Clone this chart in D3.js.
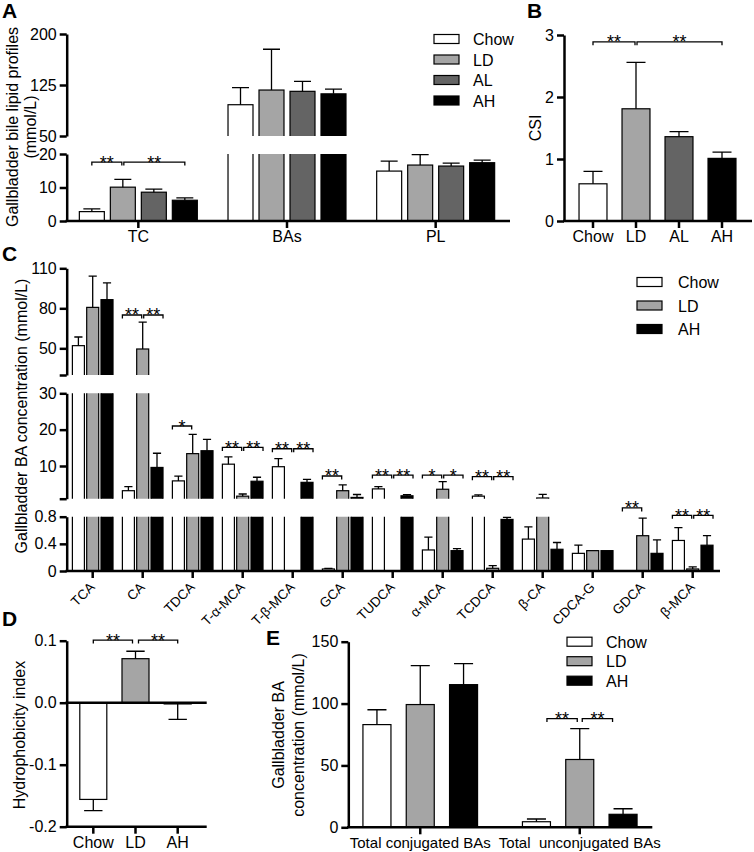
<!DOCTYPE html>
<html>
<head>
<meta charset="utf-8">
<script src="https://cdn.jsdelivr.net/npm/d3@7/dist/d3.min.js"></script>
<style>
  body { margin: 0; background: #fff; }
  text { font-family: "Liberation Sans", Arial, sans-serif; fill: #000; }
</style>
</head>
<body>
<svg id="fig" width="754" height="852"></svg>
<script>
// ---- data ----
// A: bile lipid profiles
const aCats = ['TC', 'BAs', 'PL'];
const aGroups = ['Chow', 'LD', 'AL', 'AH'];
const aMean = [[2.8, 10.1, 8.6, 6.2], [96, 117.6, 115.7, 112], [14.9, 16.7, 16.4, 17.4]];
const aSD = [[0.8, 2.3, 0.9, 0.7], [25, 60, 14.5, 7], [3, 3.1, 0.9, 0.8]];
const aSig = [['TC', 'Chow', 'LD', 17.6, '**'], ['TC', 'LD', 'AH', 17.6, '**']];

// B: CSI
const bGroups = ['Chow', 'LD', 'AL', 'AH'];
const bMean = [0.6, 1.81, 1.36, 1.01];
const bSD = [0.2, 0.75, 0.08, 0.1];
const bSig = [['Chow', 'LD', 2.89, '**'], ['LD', 'AH', 2.89, '**']];

// C: individual bile acids
const cCats = ['TCA', 'CA', 'TDCA', 'T-α-MCA', 'T-β-MCA', 'GCA', 'TUDCA', 'α-MCA', 'TCDCA', 'β-CA', 'CDCA-G', 'GDCA', 'β-MCA'];
const cGroups = ['Chow', 'LD', 'AH'];
const cMean = [[52, 80.7, 86.5], [3.2, 49.5, 9.6], [5.9, 13.4, 14.2], [10.5, 1.7, 5.8], [9.8, 0, 5.5],
  [0.03, 3.2, 1.35], [3.7, 0, 1.8], [0.31, 3.6, 0.3], [1.7, 0.04, 0.76], [0.47, 1.2, 0.32],
  [0.26, 0.3, 0.3], [0, 0.52, 0.26], [0.45, 0.03, 0.38]];
const cSD = [[6.5, 23.5, 12.5], [1.1, 20.2, 3.9], [1.3, 5.3, 3.1], [2, 0.6, 1.1], [2.2, 0, 0.8],
  [0.01, 1.6, 0.8], [0.6, 0, 0.3], [0.19, 2.1, 0.03], [0.35, 0.04, 0.03], [0.18, 1.0, 0.1],
  [0.12, 0, 0], [0, 0.26, 0.2], [0.19, 0.03, 0.14]];
const cSig = [
  ['CA', 'Chow', 'LD', 75, '**'], ['CA', 'LD', 'AH', 75, '**'],
  ['TDCA', 'Chow', 'LD', 21, '*'],
  ['T-α-MCA', 'Chow', 'LD', 15.1, '**'], ['T-α-MCA', 'LD', 'AH', 15.1, '**'],
  ['T-β-MCA', 'Chow', 'LD', 14.75, '**'], ['T-β-MCA', 'LD', 'AH', 14.75, '**'],
  ['GCA', 'Chow', 'LD', 7.25, '**'],
  ['TUDCA', 'Chow', 'LD', 7.5, '**'], ['TUDCA', 'LD', 'AH', 7.5, '**'],
  ['α-MCA', 'Chow', 'LD', 7.5, '*'], ['α-MCA', 'LD', 'AH', 7.5, '*'],
  ['TCDCA', 'Chow', 'LD', 7.05, '**'], ['TCDCA', 'LD', 'AH', 7.05, '**'],
  ['GDCA', 'Chow', 'LD', 0.93, '**'],
  ['β-MCA', 'Chow', 'LD', 0.82, '**'], ['β-MCA', 'LD', 'AH', 0.82, '**']];

// D: hydrophobicity index
const dGroups = ['Chow', 'LD', 'AH'];
const dMean = [-0.156, 0.071, -0.002];
const dSD = [0.018, 0.012, 0.025];
const dSig = [['Chow', 'LD', 0.101, '**'], ['LD', 'AH', 0.101, '**']];

// E: conjugated / unconjugated totals
const eCats = ['Total conjugated BAs', 'Total  unconjugated BAs'];
const eMean = [[83, 99.2, 115.3], [4.5, 54.8, 10.5]];
const eSD = [[12, 31.4, 17], [2.2, 25, 4.5]];
const eSig = [['Total  unconjugated BAs', 'Chow', 'LD', 87.9, '**'], ['Total  unconjugated BAs', 'LD', 'AH', 87.9, '**']];

// ---- drawing ----
const svg = d3.select('#fig');
const fills = {Chow: '#ffffff', LD: '#a5a5a5', AL: '#646464', AH: '#000000'};
const AXW = 2.5;

function seg(lo, hi, y0, y1, ticks, labels) {
  return {lo, hi, ticks, labels: labels || ticks, y: d3.scaleLinear().domain([lo, hi]).range([y0, y1])};
}

function tidy(ax, fs) {
  ax.attr('font-family', null).attr('font-size', null);
  ax.selectAll('.domain, .tick line').attr('stroke-width', AXW);
  ax.selectAll('.tick text').style('font-size', (fs || 16) + 'px');
}

function yAxis(g, x, s, fmt) {
  const ax = g.append('g').attr('transform', `translate(${x},0)`)
    .call(d3.axisLeft(s.y).tickValues(s.ticks).tickSize(7).tickSizeOuter(0).tickPadding(3)
      .tickFormat(d => s.labels.includes(d) ? fmt(d) : ''));
  tidy(ax);
}

function xAxis(g, x, y, x0, x1, fs) {
  const ax = g.append('g').attr('transform', `translate(0,${y})`)
    .call(d3.axisBottom(x).tickSize(7).tickSizeOuter(0).tickPadding(3));
  tidy(ax, fs);
  ax.select('.domain').remove();
  g.append('line').attr('x1', x0).attr('x2', x1).attr('y1', y).attr('y2', y)
    .attr('stroke', '#000').attr('stroke-width', AXW);
  return ax;
}

function segFor(segs, v) {
  let s = segs[0];
  segs.forEach(t => { if (v >= t.lo) s = t; });
  return s;
}

let clipN = 0;
function bars(g, segs, items) {
  segs.forEach(s => {
    const id = 'clip' + (clipN++);
    const top = s.y(s.hi), bot = s.y(s.lo);
    g.append('clipPath').attr('id', id).append('rect')
      .attr('x', 0).attr('width', 754).attr('y', top).attr('height', bot - top + (s.lo === 0 ? 2 : 0));
    g.append('g').attr('clip-path', `url(#${id})`)
      .selectAll('rect').data(items.filter(d => d.v > s.lo)).join('rect')
      .attr('x', d => d.x - d.w / 2).attr('width', d => d.w)
      .attr('y', d => s.y(d.v))
      .attr('height', d => bot - s.y(d.v) + (s.lo === 0 ? 0 : 4))
      .attr('fill', d => fills[d.g]).attr('stroke', '#000').attr('stroke-width', 1.2);
  });
  items.filter(d => d.sd > 0 && d.v > 0).forEach(d => {
    const s = segFor(segs, d.v);
    const y0 = s.y(d.v), y1 = s.y(d.v + d.sd), cw = d.w * 0.68;
    g.append('path').attr('d', `M${d.x},${y0}V${y1}M${d.x - cw / 2},${y1}H${d.x + cw / 2}`)
      .attr('stroke', '#000').attr('stroke-width', 1.3).attr('fill', 'none');
  });
}

function bracket(g, x1, x2, y, label) {
  g.append('path').attr('d', `M${x1},${y + 3.5}V${y}H${x2}V${y + 3.5}`)
    .attr('fill', 'none').attr('stroke', '#000').attr('stroke-width', 1.3);
  g.append('text').attr('x', (x1 + x2) / 2).attr('y', y + 6.5).attr('text-anchor', 'middle')
    .style('font-size', '18px').text(label);
}

function sigEnds(cx, groups, g1, g2, outer, inner) {
  const i1 = groups.indexOf(g1), i2 = groups.indexOf(g2);
  return [cx(g1) + (i1 === 0 ? outer : inner), cx(g2) - (i2 === groups.length - 1 ? outer : inner)];
}

function legend(g, x, y0, dy, groups, tx) {
  groups.forEach((k, i) => {
    const y = y0 + i * dy;
    g.append('rect').attr('x', x).attr('y', y - 4.5).attr('width', 25).attr('height', 9)
      .attr('fill', fills[k]).attr('stroke', '#000').attr('stroke-width', 1.2);
    g.append('text').attr('x', tx).attr('y', y + 6).style('font-size', '16px').text(k);
  });
}

function yTitle(g, lines, xs, cy) {
  lines.forEach((t, i) => g.append('text')
    .attr('transform', `translate(${xs[i]},${cy}) rotate(-90)`)
    .attr('text-anchor', 'middle').attr('dy', '0.35em').style('font-size', '16px').text(t));
}

function letter(t, x, y) {
  svg.append('text').attr('x', x).attr('y', y).style('font-size', '21px').style('font-weight', 'bold').text(t);
}

// ---- panel A ----
const gA = svg.append('g');
const segsA = [seg(0, 20, 221, 154, [0, 10, 20]), seg(50, 200, 136, 34, [50, 125, 200])];
const xA = d3.scaleBand().domain(aCats).range([64, 510]);
const subA = d3.scaleBand().domain(aGroups).range([-65, 65]).padding(0.194);
const cxA = c => xA(c) + xA.bandwidth() / 2;
const itemsA = [];
aCats.forEach((c, i) => aGroups.forEach((k, j) => itemsA.push({
  g: k, x: cxA(c) + subA(k) + subA.bandwidth() / 2, w: subA.bandwidth(), v: aMean[i][j], sd: aSD[i][j]})));
bars(gA, segsA, itemsA);
segsA.forEach(s => yAxis(gA, 66.7, s, d3.format('d')));
xAxis(gA, xA, 221, 65.5, 510);
aSig.forEach(([c, g1, g2, lv, lab]) => {
  const cx = k => cxA(c) + subA(k) + subA.bandwidth() / 2;
  const [x1, x2] = sigEnds(cx, aGroups, g1, g2, 0, 1);
  bracket(gA, x1, x2, segFor(segsA, lv).y(lv), lab);
});
legend(gA, 434, 39, 20.5, aGroups, 473);
yTitle(gA, ['Gallbladder bile lipid profiles', '(mmol/L)'], [12, 30], 127);
letter('A', 2, 18);

// ---- panel B ----
const gB = svg.append('g');
const segsB = [seg(0, 3, 221, 35, [0, 1, 2, 3])];
const xB = d3.scaleBand().domain(bGroups).range([571.5, 743.5]).paddingInner(0.35).paddingOuter(0.175);
const cxB = k => xB(k) + xB.bandwidth() / 2;
bars(gB, segsB, bGroups.map((k, i) => ({g: k, x: cxB(k), w: xB.bandwidth(), v: bMean[i], sd: bSD[i]})));
yAxis(gB, 564, segsB[0], d3.format('d'));
xAxis(gB, xB, 221, 563, 752);
bSig.forEach(([g1, g2, lv, lab]) => {
  const [x1, x2] = sigEnds(cxB, bGroups, g1, g2, 0, 1);
  bracket(gB, x1, x2, segsB[0].y(lv), lab);
});
yTitle(gB, ['CSI'], [535], 128);
letter('B', 527, 18);

// ---- panel C ----
const gC = svg.append('g');
const segsC = [
  seg(0, 0.8, 571, 516.7, [0, 0.4, 0.8]),
  seg(1, 30, 498.7, 393.3, [1, 10, 20, 30], [10, 20, 30]),
  seg(30, 110, 375, 268.3, [30, 50, 80, 110], [50, 80, 110])];
const xC = d3.scaleBand().domain(cCats).range([67.7, 717.7]);
const subC = d3.scaleBand().domain(cGroups).range([-22.6, 22.6]).padding(0.16);
const cxC = c => xC(c) + xC.bandwidth() / 2;
const itemsC = [];
cCats.forEach((c, i) => cGroups.forEach((k, j) => itemsC.push({
  g: k, x: cxC(c) + subC(k) + subC.bandwidth() / 2, w: subC.bandwidth(), v: cMean[i][j], sd: cSD[i][j]})));
bars(gC, segsC, itemsC);
segsC.forEach(s => yAxis(gC, 66.7, s, d => String(d)));
const axC = xAxis(gC, xC, 571, 65.5, 720);
axC.selectAll('.tick text').remove();
// slanted category labels
const labC = gC.append('g').selectAll('g').data(cCats).join('g')
  .attr('transform', c => `translate(${cxC(c) + 3},${571 + 17})`);
labC.append('g').attr('transform', 'rotate(-45)')
  .append('text').attr('text-anchor', 'end').style('font-size', '13.5px').text(c => c);
cSig.forEach(([c, g1, g2, lv, lab]) => {
  const cx = k => cxC(c) + subC(k) + subC.bandwidth() / 2;
  const [x1, x2] = sigEnds(cx, cGroups, g1, g2, -subC.bandwidth() / 2, 1);
  bracket(gC, x1, x2, segFor(segsC, lv).y(lv), lab);
});
legend(gC, 637, 282, 23.5, cGroups, 678);
yTitle(gC, ['Gallbladder BA concentration (mmol/L)'], [21], 416);
letter('C', 2, 261);

// ---- panel D ----
const gD = svg.append('g');
const yD = d3.scaleLinear().domain([-0.2, 0.1]).range([826.7, 640.7]);
const xD = d3.scaleBand().domain(dGroups).range([72.2, 198.8]).paddingInner(0.36).paddingOuter(0.18);
const cxD = k => xD(k) + xD.bandwidth() / 2;
dGroups.forEach((k, i) => {
  const v = dMean[i], w = xD.bandwidth(), x = cxD(k);
  gD.append('rect').attr('x', x - w / 2).attr('width', w)
    .attr('y', Math.min(yD(v), yD(0))).attr('height', Math.abs(yD(v) - yD(0)))
    .attr('fill', fills[k]).attr('stroke', '#000').attr('stroke-width', 1.2);
  const e = v + Math.sign(v) * dSD[i], cw = w * 0.68;
  gD.append('path').attr('d', `M${x},${yD(v)}V${yD(e)}M${x - cw / 2},${yD(e)}H${x + cw / 2}`)
    .attr('stroke', '#000').attr('stroke-width', 1.3).attr('fill', 'none');
});
const axDy = gD.append('g').attr('transform', 'translate(66.7,0)')
  .call(d3.axisLeft(yD).tickValues([-0.2, -0.1, 0, 0.1]).tickSize(7).tickSizeOuter(0).tickPadding(3)
    .tickFormat(d => d.toFixed(1)));
tidy(axDy);
gD.append('line').attr('x1', 65.5).attr('x2', 206.7).attr('y1', yD(0)).attr('y2', yD(0))
  .attr('stroke', '#000').attr('stroke-width', AXW);
xAxis(gD, xD, 826.7, 65.5, 206.7);
dSig.forEach(([g1, g2, lv, lab]) => {
  const [x1, x2] = sigEnds(cxD, dGroups, g1, g2, 0, 3);
  bracket(gD, x1, x2, yD(lv), lab);
});
yTitle(gD, ['Hydrophobicity index'], [19], 735);
letter('D', 2, 626);

// ---- panel E ----
const gE = svg.append('g');
const segsE = [seg(0, 150, 827.3, 641.7, [0, 50, 100, 150])];
const xE = d3.scaleBand().domain(eCats).range([340.5, 659.5]);
const subE = d3.scaleBand().domain(cGroups).range([-72.6, 72.6]).padding(0.353);
const cxE = c => xE(c) + xE.bandwidth() / 2;
const itemsE = [];
eCats.forEach((c, i) => cGroups.forEach((k, j) => itemsE.push({
  g: k, x: cxE(c) + subE(k) + subE.bandwidth() / 2, w: subE.bandwidth(), v: eMean[i][j], sd: eSD[i][j]})));
bars(gE, segsE, itemsE);
yAxis(gE, 348.3, segsE[0], d3.format('d'));
const axE = xAxis(gE, xE, 827.3, 347, 652.3, 15);
axE.selectAll('.tick text').style('white-space', 'pre');
eSig.forEach(([c, g1, g2, lv, lab]) => {
  const cx = k => cxE(c) + subE(k) + subE.bandwidth() / 2;
  const [x1, x2] = sigEnds(cx, cGroups, g1, g2, 10.5, 2.5);
  bracket(gE, x1, x2, segsE[0].y(lv), lab);
});
legend(gE, 567, 641.7, 19.5, cGroups, 606);
yTitle(gE, ['Gallbladder BA', 'concentration (mmol/L)'], [278, 298], 735);
letter('E', 266, 645);
</script>
</body>
</html>
